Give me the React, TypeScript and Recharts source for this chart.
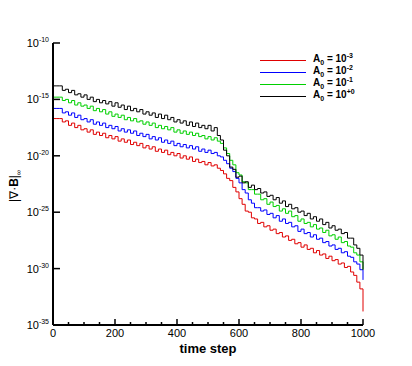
import { LineChart, Line, XAxis, YAxis } from "recharts";

// log10 of |div B|_inf, sampled every 10 time steps (0..1000)
const a0Minus3 = [
  -16.7, -16.7, -16.7, -17.0, -16.9, -17.3, -17.1, -17.5, -17.3, -17.7,
  -17.6, -17.9, -17.7, -18.1, -17.9, -18.2, -18.0, -18.4, -18.2, -18.5,
  -18.3, -18.7, -18.5, -18.8, -18.6, -19.0, -18.8, -19.1, -18.9, -19.3,
  -19.1, -19.4, -19.2, -19.6, -19.4, -19.7, -19.5, -19.9, -19.7, -20.0,
  -19.8, -20.2, -20.0, -20.3, -20.1, -20.5, -20.3, -20.6, -20.5, -20.8,
  -20.6, -20.9, -20.8, -21.1, -21.3, -21.6, -22.0, -22.2, -22.8, -23.2,
  -23.8, -24.3, -24.9, -25.0, -25.5, -25.6, -26.0, -25.9, -26.3, -26.2,
  -26.6, -26.5, -26.9, -26.8, -27.2, -27.1, -27.5, -27.4, -27.8, -27.7,
  -28.1, -27.9, -28.3, -28.2, -28.6, -28.4, -28.8, -28.7, -29.1, -28.9,
  -29.3, -29.2, -29.6, -29.5, -29.9, -29.8, -30.3, -30.6, -31.2, -31.8,
  -33.8,
];
const a0Minus2 = [
  -15.8, -15.8, -15.8, -16.2, -16.1, -16.4, -16.2, -16.6, -16.4, -16.8,
  -16.7, -17.0, -16.8, -17.2, -17.0, -17.3, -17.1, -17.5, -17.3, -17.6,
  -17.4, -17.8, -17.6, -17.9, -17.7, -18.0, -17.8, -18.2, -18.0, -18.3,
  -18.1, -18.5, -18.3, -18.6, -18.4, -18.8, -18.6, -18.9, -18.7, -19.1,
  -18.9, -19.2, -19.0, -19.3, -19.1, -19.4, -19.2, -19.6, -19.4, -19.7,
  -19.5, -19.8, -19.7, -20.0, -20.1, -20.4, -20.7, -21.1, -21.4, -22.0,
  -22.4, -23.0, -23.3, -23.9, -24.2, -24.6, -24.6, -24.9, -24.8, -25.2,
  -25.1, -25.5, -25.3, -25.8, -25.6, -26.0, -25.9, -26.3, -26.2, -26.7,
  -26.5, -26.9, -26.8, -27.2, -27.0, -27.4, -27.3, -27.7, -27.6, -28.0,
  -27.9, -28.3, -28.2, -28.6, -28.5, -28.9, -29.0, -29.4, -29.6, -30.1,
  -31.0,
];
const a0Minus1 = [
  -14.8, -14.8, -14.8, -15.1, -15.0, -15.3, -15.1, -15.5, -15.3, -15.6,
  -15.5, -15.8, -15.6, -16.0, -15.8, -16.1, -15.9, -16.3, -16.1, -16.5,
  -16.3, -16.6, -16.4, -16.8, -16.6, -16.9, -16.7, -17.0, -16.9, -17.2,
  -17.0, -17.3, -17.1, -17.5, -17.3, -17.6, -17.4, -17.7, -17.5, -17.9,
  -17.7, -18.0, -17.8, -18.1, -17.9, -18.2, -18.0, -18.3, -18.2, -18.5,
  -18.3, -18.6, -18.4, -18.7, -18.9, -19.3, -19.8, -20.4, -20.8, -21.5,
  -21.7, -22.3, -22.4, -23.0, -23.0, -23.4, -23.4, -23.9, -23.8, -24.3,
  -24.1, -24.5, -24.4, -24.9, -24.7, -25.1, -24.9, -25.4, -25.3, -25.8,
  -25.6, -26.0, -25.9, -26.3, -26.1, -26.5, -26.4, -26.8, -26.6, -27.1,
  -27.0, -27.4, -27.2, -27.7, -27.6, -28.0, -28.1, -28.6, -28.8, -29.4,
  -30.1,
];
const a0Plus0 = [
  -13.8, -13.8, -13.8, -14.2, -14.1, -14.4, -14.2, -14.6, -14.5, -14.8,
  -14.6, -15.0, -14.8, -15.2, -15.0, -15.3, -15.1, -15.4, -15.2, -15.6,
  -15.3, -15.7, -15.5, -15.9, -15.6, -16.0, -15.8, -16.1, -15.9, -16.3,
  -16.1, -16.4, -16.2, -16.6, -16.3, -16.7, -16.4, -16.8, -16.6, -17.0,
  -16.8, -17.1, -16.9, -17.3, -17.0, -17.4, -17.1, -17.5, -17.3, -17.6,
  -17.3, -17.8, -17.5, -18.2, -18.6, -19.5, -20.0, -21.0, -21.2, -21.9,
  -21.8, -22.4, -22.3, -22.8, -22.6, -23.0, -22.9, -23.3, -23.2, -23.6,
  -23.5, -23.9, -23.7, -24.2, -24.0, -24.5, -24.3, -24.7, -24.6, -25.0,
  -24.9, -25.3, -25.1, -25.6, -25.4, -25.8, -25.6, -26.1, -25.9, -26.4,
  -26.2, -26.6, -26.5, -26.9, -26.8, -27.3, -27.3, -27.9, -28.2, -28.8,
  -30.1,
];

const xTicks = [
  0, 50, 100, 150, 200, 250, 300, 350, 400, 450, 500, 550, 600, 650, 700,
  750, 800, 850, 900, 950, 1000,
];
const yTicks = [-35, -30, -25, -20, -15, -10];

const series = [
  { key: "a3", data: a0Minus3, color: "#e00000", exp: "-3" },
  { key: "a2", data: a0Minus2, color: "#0000ff", exp: "-2" },
  { key: "a1", data: a0Minus1, color: "#00d000", exp: "-1" },
  { key: "a0", data: a0Plus0, color: "#000000", exp: "+0" },
];

const chartData = a0Plus0.map((_, i) => {
  const row: Record<string, number> = { step: i * 10 };
  series.forEach((s) => {
    row[s.key] = s.data[i];
  });
  return row;
});

const FONT = "'Liberation Sans', Arial, sans-serif";

const XTick = ({ x, y, payload }: any) => {
  const major = payload.value % 200 === 0;
  return (
    <g>
      <line x1={x} y1={y} x2={x} y2={y - (major ? 6 : 3)} stroke="#000" strokeWidth={1.5} />
      {major && (
        <text x={x} y={y + 12} textAnchor="middle" fontSize={11} fontFamily={FONT} fill="#000">
          {payload.value}
        </text>
      )}
    </g>
  );
};

const YTick = ({ x, y, payload }: any) => (
  <g>
    <line x1={x} y1={y} x2={x + 7} y2={y} stroke="#000" strokeWidth={1.5} />
    <text x={x - 4} y={y + 4} textAnchor="end" fontSize={11} fontFamily={FONT} fill="#000">
      10
      <tspan fontSize={7} dy={-5}>
        {payload.value}
      </tspan>
    </text>
  </g>
);

// legend drawn as an overlay, top right of the plot
const LegendBox = () => (
  <div
    style={{
      position: "absolute",
      left: 255,
      top: 54,
      fontFamily: FONT,
      fontSize: 10,
      fontWeight: "bold",
      color: "#000",
    }}
  >
    {series.map((s) => (
      <div key={s.key} style={{ display: "flex", alignItems: "center", height: 12 }}>
        <svg width={54} height={12}>
          <line x1={5} y1={6.5} x2={51} y2={6.5} stroke={s.color} strokeWidth={1} />
        </svg>
        <span style={{ marginLeft: 4, lineHeight: "12px", whiteSpace: "nowrap" }}>
          A<sub style={{ fontSize: 7 }}>0</sub> = 10
          <sup style={{ fontSize: 7 }}>{s.exp}</sup>
        </span>
      </div>
    ))}
  </div>
);

export default function App() {
  return (
    <div style={{ position: "absolute", left: 0, top: 0, width: 412, height: 366, background: "#fff" }}>
      <LineChart
        width={412}
        height={366}
        data={chartData}
        margin={{ top: 43, right: 49, bottom: 0, left: 0 }}
      >
        <XAxis
          dataKey="step"
          type="number"
          domain={[0, 1000]}
          ticks={xTicks}
          interval={0}
          tickSize={0}
          tickMargin={0}
          tickLine={false}
          tick={<XTick />}
          height={41}
          axisLine={{ stroke: "#000", strokeWidth: 2 }}
          label={{
            content: () => (
              <text x={208} y={353} textAnchor="middle" fontSize={13} fontWeight="bold" fontFamily={FONT} fill="#000">
                time step
              </text>
            ),
          }}
        />
        <YAxis
          type="number"
          domain={[-35, -10]}
          ticks={yTicks}
          interval={0}
          width={53}
          tickSize={0}
          tickMargin={0}
          tickLine={false}
          tick={<YTick />}
          axisLine={{ stroke: "#000", strokeWidth: 2 }}
          label={{
            content: () => (
              <text
                x={0}
                y={0}
                transform="translate(18,186) rotate(-90)"
                textAnchor="middle"
                fontSize={12}
                fontFamily={FONT}
                fill="#000"
              >
                |∇·<tspan fontWeight="bold">B</tspan>|
                <tspan fontSize={7} dy={3}>∞</tspan>
              </text>
            ),
          }}
        />
        {series.map((s) => (
          <Line
            key={s.key}
            dataKey={s.key}
            type="stepAfter"
            stroke={s.color}
            strokeWidth={1}
            dot={false}
            isAnimationActive={false}
          />
        ))}
      </LineChart>
      <LegendBox />
    </div>
  );
}
